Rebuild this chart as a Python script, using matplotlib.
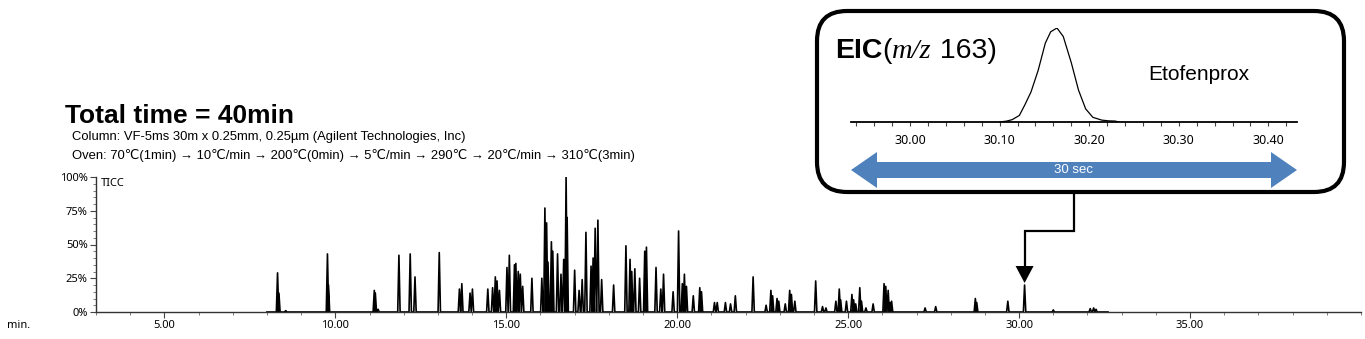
import matplotlib
matplotlib.use("Agg")
import matplotlib.pyplot as plt
from matplotlib.patches import FancyBboxPatch, Polygon
from matplotlib.ticker import FixedLocator, MultipleLocator

W, H = 1365, 339

# TIC peaks: retention time (min), height (%)
peak_rt = [8.31, 8.35, 8.55, 9.77, 9.80, 11.14, 11.17, 11.25, 11.86, 12.19,
           12.33, 13.04, 13.63, 13.70, 13.94, 14.01, 14.46, 14.60, 14.68, 14.73,
           14.80, 15.02, 15.09, 15.24, 15.28, 15.35, 15.41, 15.48, 15.75, 16.04,
           16.13, 16.18, 16.22, 16.32, 16.36, 16.50, 16.60, 16.68, 16.75, 16.78,
           17.00, 17.13, 17.22, 17.33, 17.48, 17.54, 17.60, 17.68, 17.79, 18.14,
           18.50, 18.62, 18.67, 18.76, 18.90, 19.05, 19.10, 19.38, 19.52, 19.60,
           19.88, 20.04, 20.15, 20.21, 20.27, 20.47, 20.66, 20.71, 21.09, 21.17,
           21.41, 21.56, 21.70, 22.22, 22.60, 22.74, 22.79, 22.92, 22.97, 23.16,
           23.29, 23.34, 23.44, 24.05, 24.25, 24.35, 24.64, 24.74, 24.78, 24.95,
           25.11, 25.16, 25.22, 25.34, 25.39, 25.52, 25.73, 26.05, 26.10, 26.17,
           26.22, 26.27, 27.25, 27.56, 28.72, 28.76, 29.67, 30.16, 31.00, 32.08,
           32.18, 32.25]
peak_h = [29, 14, 1, 43, 20, 16, 14, 2, 42, 43,
          26, 44, 17, 21, 14, 17, 17, 18, 26, 23,
          16, 33, 42, 35, 36, 30, 28, 19, 25, 25,
          77, 66, 37, 52, 45, 43, 28, 39, 100, 70,
          31, 16, 24, 59, 34, 40, 62, 68, 24, 20,
          49, 39, 30, 32, 25, 45, 48, 33, 17, 28,
          15, 60, 21, 28, 19, 12, 18, 15, 7, 7,
          7, 6, 12, 26, 5, 16, 12, 10, 8, 6,
          16, 13, 8, 23, 4, 3, 8, 17, 9, 8,
          13, 9, 6, 18, 8, 3, 6, 21, 19, 16,
          7, 8, 3, 4, 10, 7, 8, 20, 1.5, 2.5,
          3, 2]

# EIC (m/z 163) trace of Etofenprox, relative intensity
eic_rt = [30.100, 30.108, 30.114, 30.122, 30.128, 30.135, 30.143, 30.151, 30.157,
          30.164, 30.171, 30.180, 30.188, 30.196, 30.204, 30.214, 30.222, 30.229, 30.233]
eic_h = [0.0, 0.01, 0.025, 0.07, 0.18, 0.32, 0.55, 0.84, 0.96,
         1.0, 0.91, 0.63, 0.34, 0.14, 0.05, 0.02, 0.012, 0.01, 0.0]

main_xticks = [5, 10, 15, 20, 25, 30, 35]
main_yticks = [0, 25, 50, 75, 100]
eic_xticks = [30.0, 30.1, 30.2, 30.3, 30.4]
target_rt = 30.16

sans = ['Liberation Sans', 'DejaVu Sans']
tickfont = ['Noto Sans', 'DejaVu Sans']

fig = plt.figure(figsize=(W / 100, H / 100), dpi=100)

# main TIC chromatogram
ax = fig.add_axes([96 / W, 1 - 312 / H, (1361 - 96) / W, 135 / H], zorder=0)
w = 0.035
tx, ty = [8.0], [0]
for t, h in zip(peak_rt, peak_h):
    tx += [t - w, t, t + w]
    ty += [0, h, 0]
tx.append(32.6)
ty.append(0)
ax.plot(tx, ty, color='black', lw=1.2)
ax.set_xlim(3, 40)
ax.set_ylim(0, 100)
ax.xaxis.set_major_locator(FixedLocator(main_xticks))
ax.set_xticklabels([f"{v:.2f}" for v in main_xticks], family=tickfont)
ax.xaxis.set_minor_locator(MultipleLocator(1))
ax.yaxis.set_major_locator(FixedLocator(main_yticks))
ax.set_yticklabels([f"{v}%" for v in main_yticks], family=tickfont)
ax.yaxis.set_minor_locator(MultipleLocator(5))
ax.tick_params(which='major', length=4, width=0.8, labelsize=8, pad=2, color='#444444')
ax.tick_params(which='minor', length=2, width=0.6, color='#666666')
for s in ['top', 'right']:
    ax.spines[s].set_visible(False)
for s in ['left', 'bottom']:
    ax.spines[s].set_linewidth(1.0)
    ax.spines[s].set_color('#333333')
ax.text(0.004, 0.95, 'TICC', transform=ax.transAxes, fontsize=8, family=tickfont, va='center')

# overlay in pixel coordinates for annotations
ov = fig.add_axes([0, 0, 1, 1], zorder=1)
ov.set_xlim(0, W)
ov.set_ylim(H, 0)
ov.axis('off')
ov.patch.set_alpha(0)

ov.text(7, 325, 'min.', fontsize=8, family=tickfont, va='center')
ov.text(65, 123, 'Total time = 40min', fontsize=19, weight='bold', family=sans, va='baseline')
ov.text(72, 137, 'Column: VF-5ms 30m x 0.25mm, 0.25µm (Agilent Technologies, Inc)',
        fontsize=9.4, family=sans, va='center')
ov.text(72, 155, 'Oven: 70℃(1min) → 10℃/min → 200℃(0min) → 5℃/min → 290℃ → 20℃/min → 310℃(3min)',
        fontsize=9.4, family=sans, va='center')

# rounded box
box = FancyBboxPatch((817, 11), 527, 181, boxstyle='round,pad=0,rounding_size=30',
                     lw=3, ec='black', fc='white', zorder=2)
ov.add_patch(box)

# double arrow "30 sec"
xl, xr, yc, bh, hh, hl = 851, 1297, 170, 8, 18, 26
pts = [(xl, yc), (xl + hl, yc - hh), (xl + hl, yc - bh), (xr - hl, yc - bh), (xr - hl, yc - hh),
       (xr, yc), (xr - hl, yc + hh), (xr - hl, yc + bh), (xl + hl, yc + bh), (xl + hl, yc + hh)]
ov.add_patch(Polygon(pts, closed=True, fc='#4F81BD', ec='none', zorder=3))
ov.text((xl + xr) / 2, yc, '30 sec', color='white', fontsize=9.5, family=sans,
        ha='center', va='center', zorder=4)

# EIC title pieces
fig.canvas.draw()
rend = fig.canvas.get_renderer()
x0 = 835
for txt, kw in [('EIC', dict(weight='bold', family=sans)),
                ('(', dict(family=sans)),
                ('m/z', dict(style='italic', family=['Liberation Serif', 'DejaVu Serif'])),
                (' 163)', dict(family=sans))]:
    t = ov.text(x0, 58, txt, fontsize=20.5, va='baseline', zorder=4, **kw)
    x0 += t.get_window_extent(rend).width
ov.text(1148, 75, 'Etofenprox', fontsize=15, family=sans, va='center', zorder=4)

# connector to the peak
px = ax.transData.transform((target_rt, 0))[0]
ov.plot([1074, 1074, px, px], [193, 231, 231, 267], color='black', lw=1.6,
        solid_joinstyle='miter', zorder=3)
ov.add_patch(Polygon([(px - 9, 266), (px + 9, 266), (px, 283)], closed=True,
                     fc='black', ec='none', zorder=3))

# EIC inset
ax2 = fig.add_axes([851 / W, 1 - 122 / H, (1297 - 851) / W, 94 / H], zorder=2)
ax2.patch.set_alpha(0)
ax2.plot(eic_rt, eic_h, color='black', lw=0.9)
ax2.set_xlim(29.934, 30.432)
ax2.set_ylim(0, 1.0)
for s in ['top', 'right', 'left']:
    ax2.spines[s].set_visible(False)
ax2.spines['bottom'].set_linewidth(1.3)
ax2.set_yticks([])
ax2.xaxis.set_major_locator(FixedLocator(eic_xticks))
ax2.set_xticklabels([f"{v:.2f}" for v in eic_xticks], family=tickfont)
ax2.xaxis.set_minor_locator(MultipleLocator(0.02))
ax2.tick_params(which='both', length=3, width=0.8, labelsize=9, pad=6, color='#444444')

fig.savefig('out.png', dpi=100)
